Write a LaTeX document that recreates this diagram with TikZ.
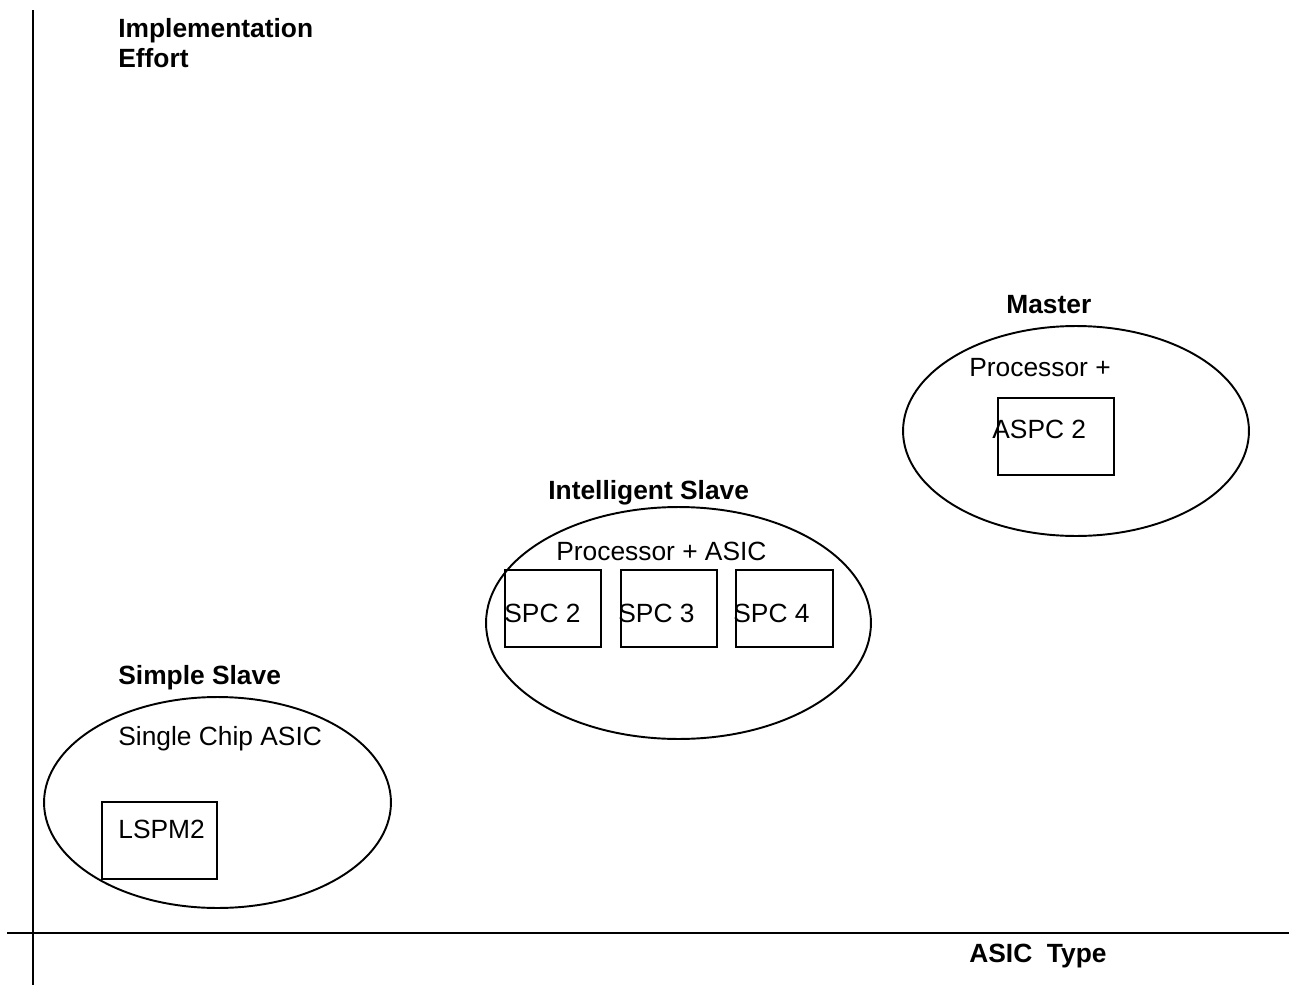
\documentclass[tikz,border=0pt]{standalone}
\usepackage{fontspec}
\setmainfont{Liberation Sans}
\usepackage{tikz}
\usetikzlibrary{shapes.geometric}
\newcommand{\diagfont}{\fontsize{15}{17}\selectfont}
\tikzset{
  axis/.style={line width=1.1pt},
  grp/.style={ellipse, draw, line width=1.1pt, inner sep=0pt},
  chip/.style={rectangle, draw, line width=1.1pt, inner sep=0pt,
               minimum height=1.54cm},
  txt/.style={anchor=base west, inner sep=0pt, align=left, font=\diagfont},
  head/.style={txt, font=\diagfont\bfseries},
}

\begin{document}
\begin{tikzpicture}[x=0.02cm, y=-0.02cm]
  \useasboundingbox (0,0) rectangle (1289,987);
  % axes
  \coordinate (ytop) at (33,10);  \coordinate (ybot) at (33,985);
  \coordinate (xlft) at (7,933);  \coordinate (xrgt) at (1289,933);
  \draw[axis] (ytop) -- (ybot);
  \draw[axis] (xlft) -- (xrgt);
  \node[head] (yname) at (118,67) {Implementation\\Effort};
  \node[head] (xname) at (969,962) {ASIC\ \ Type};

  % simple slave
  \node[grp, minimum width=6.94cm, minimum height=4.22cm] (simple) at (217.5,802.5) {};
  \node[head] (simplet) at (118,684) {Simple Slave};
  \node[txt]  (simplek) at (118,745) {Single Chip ASIC};
  \node[chip, minimum width=2.3cm] (lspm) at (159.5,840.5) {};
  \node[txt]  (lspmt) at (118,838) {LSPM2};

  % intelligent slave
  \node[grp, minimum width=7.7cm, minimum height=4.64cm] (intel) at (678.5,623) {};
  \node[head] (intelt) at (548,499) {Intelligent Slave};
  \node[txt]  (intelk) at (556,560) {Processor + ASIC};
  \node[chip, minimum width=1.92cm] (spc2) at (553,608.5) {};
  \node[chip, minimum width=1.92cm] (spc3) at (669,608.5) {};
  \node[chip, minimum width=1.94cm] (spc4) at (784.5,608.5) {};
  \node[txt] (spc2t) at (504,622) {SPC 2};
  \node[txt] (spc3t) at (618,622) {SPC 3};
  \node[txt] (spc4t) at (733,622) {SPC 4};

  % master
  \node[grp, minimum width=6.92cm, minimum height=4.2cm] (master) at (1076,431) {};
  \node[head] (mastert) at (1006,313) {Master};
  \node[txt]  (masterk) at (969,376) {Processor +};
  \node[chip, minimum width=2.32cm] (aspc) at (1056,436.5) {};
  \node[txt]  (aspct) at (992,438) {ASPC 2};
\end{tikzpicture}
\end{document}
